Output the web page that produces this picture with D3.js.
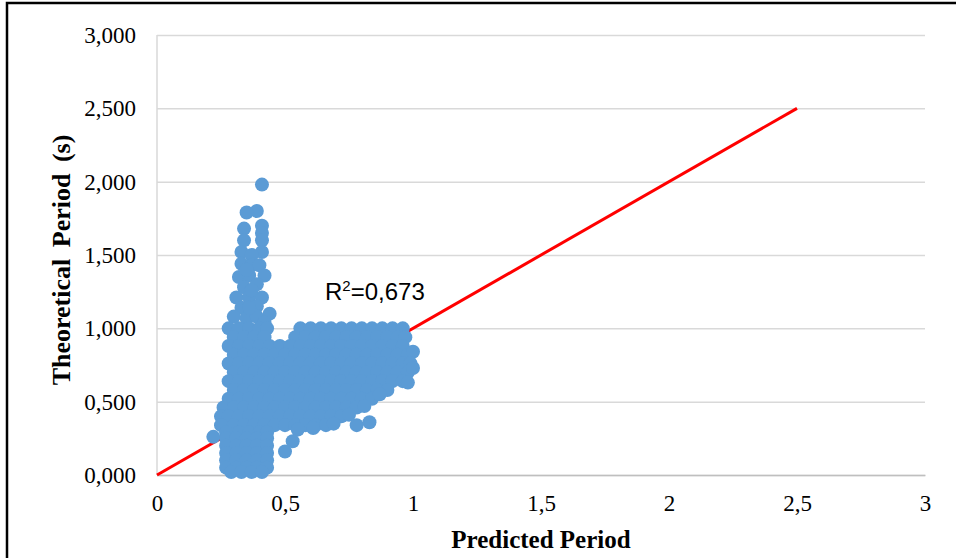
<!DOCTYPE html>
<html>
<head>
<meta charset="utf-8">
<script src="https://cdn.jsdelivr.net/npm/d3@7"></script>
<style>
  body { margin: 0; background: #fff; }
  svg { display: block; }
</style>
</head>
<body>
<div id="scatter"></div>
<script>
// tick values and labels (comma decimals as in the source)
var xTicks = [0, 0.5, 1, 1.5, 2, 2.5, 3];
var xTickLabels = ["0", "0,5", "1", "1,5", "2", "2,5", "3"];
var yTicks = [0, 0.5, 1, 1.5, 2, 2.5, 3];
var yTickLabels = ["0,000", "0,500", "1,000", "1,500", "2,000", "2,500", "3,000"];

// reference line y = x
var fitLine = [[0, 0], [2.5, 2.5]];
var r2Text = "=0,673";

// [predicted, theoretical]
var points = [
  // tall spike
  [0.41,1.98],[0.39,1.80],[0.35,1.79],[0.41,1.70],[0.41,1.65],[0.34,1.68],[0.34,1.60],[0.41,1.60],
  [0.33,1.52],[0.41,1.52],[0.37,1.50],[0.33,1.44],[0.37,1.43],[0.40,1.43],[0.42,1.36],[0.32,1.35],
  [0.36,1.36],[0.39,1.30],[0.34,1.28],[0.31,1.21],[0.36,1.21],[0.41,1.21],[0.39,1.15],[0.33,1.14],
  [0.30,1.08],[0.35,1.07],[0.39,1.08],[0.44,1.10],[0.42,1.04],[0.37,1.26],[0.35,1.40],[0.36,1.14],
  // y ~ 1.00
  [0.28,1.00],[0.32,1.00],[0.36,1.00],[0.40,1.00],[0.43,1.00],[0.56,1.00],[0.60,1.00],[0.64,1.00],
  [0.68,1.00],[0.72,1.00],[0.76,1.00],[0.80,1.00],[0.84,1.00],[0.88,1.00],[0.92,1.00],[0.96,1.00],
  // y ~ 0.94
  [0.30,0.94],[0.34,0.94],[0.38,0.94],[0.42,0.94],[0.54,0.94],[0.58,0.94],[0.62,0.94],[0.66,0.94],
  [0.70,0.94],[0.74,0.94],[0.78,0.94],[0.82,0.94],[0.86,0.94],[0.90,0.94],[0.94,0.94],[0.97,0.94],
  // y ~ 0.88
  [0.28,0.88],[0.32,0.88],[0.36,0.88],[0.40,0.88],[0.44,0.88],[0.48,0.88],[0.52,0.88],[0.56,0.88],
  [0.60,0.88],[0.64,0.88],[0.68,0.88],[0.72,0.88],[0.76,0.88],[0.80,0.88],[0.84,0.88],[0.88,0.88],
  [0.92,0.88],[0.96,0.88],
  // y ~ 0.82
  [0.30,0.82],[0.34,0.82],[0.38,0.82],[0.42,0.82],[0.46,0.82],[0.50,0.82],[0.54,0.82],[0.58,0.82],
  [0.62,0.82],[0.66,0.82],[0.70,0.82],[0.74,0.82],[0.78,0.82],[0.82,0.82],[0.86,0.82],[0.90,0.82],
  [0.94,0.82],[0.98,0.82],[1.00,0.84],
  // y ~ 0.76
  [0.28,0.76],[0.32,0.76],[0.36,0.76],[0.40,0.76],[0.44,0.76],[0.48,0.76],[0.52,0.76],[0.56,0.76],
  [0.60,0.76],[0.64,0.76],[0.68,0.76],[0.72,0.76],[0.76,0.76],[0.80,0.76],[0.84,0.76],[0.88,0.76],
  [0.92,0.76],[0.96,0.76],[0.99,0.76],
  // y ~ 0.70
  [0.30,0.70],[0.34,0.70],[0.38,0.70],[0.42,0.70],[0.46,0.70],[0.50,0.70],[0.54,0.70],[0.58,0.70],
  [0.62,0.70],[0.66,0.70],[0.70,0.70],[0.74,0.70],[0.78,0.70],[0.82,0.70],[0.86,0.70],[0.90,0.70],
  [0.94,0.70],[0.98,0.70],[1.00,0.73],
  // y ~ 0.64
  [0.28,0.64],[0.32,0.64],[0.36,0.64],[0.40,0.64],[0.44,0.64],[0.48,0.64],[0.52,0.64],[0.56,0.64],
  [0.60,0.64],[0.64,0.64],[0.68,0.64],[0.72,0.64],[0.76,0.64],[0.80,0.64],[0.84,0.64],[0.88,0.64],
  [0.92,0.64],[0.96,0.64],[0.98,0.63],
  // y ~ 0.58
  [0.30,0.58],[0.34,0.58],[0.38,0.58],[0.42,0.58],[0.46,0.58],[0.50,0.58],[0.54,0.58],[0.58,0.58],
  [0.62,0.58],[0.66,0.58],[0.70,0.58],[0.74,0.58],[0.78,0.58],[0.82,0.58],[0.86,0.58],[0.90,0.58],
  // y ~ 0.52
  [0.28,0.52],[0.32,0.52],[0.36,0.52],[0.40,0.52],[0.44,0.52],[0.48,0.52],[0.52,0.52],[0.56,0.52],
  [0.60,0.52],[0.64,0.52],[0.68,0.52],[0.72,0.52],[0.76,0.52],[0.80,0.52],[0.84,0.52],[0.87,0.55],
  // y ~ 0.46
  [0.26,0.46],[0.30,0.46],[0.34,0.46],[0.38,0.46],[0.42,0.46],[0.46,0.46],[0.50,0.46],[0.54,0.46],
  [0.58,0.46],[0.62,0.46],[0.66,0.46],[0.70,0.46],[0.74,0.46],[0.78,0.46],[0.81,0.47],
  // y ~ 0.40
  [0.25,0.40],[0.28,0.40],[0.32,0.40],[0.36,0.40],[0.40,0.40],[0.44,0.40],[0.48,0.40],[0.52,0.40],
  [0.56,0.40],[0.60,0.40],[0.64,0.40],[0.68,0.40],[0.72,0.40],[0.75,0.41],
  // y ~ 0.34
  [0.25,0.34],[0.30,0.34],[0.34,0.34],[0.38,0.34],[0.42,0.34],[0.46,0.34],[0.50,0.34],[0.54,0.34],
  [0.58,0.34],[0.62,0.34],[0.66,0.34],[0.69,0.35],[0.78,0.34],[0.83,0.36],
  // y ~ 0.29 and below (spike base)
  [0.27,0.29],[0.32,0.29],[0.36,0.29],[0.40,0.29],[0.43,0.29],[0.55,0.31],[0.61,0.32],
  [0.22,0.26],[0.27,0.25],[0.31,0.25],[0.35,0.25],[0.39,0.25],[0.43,0.25],[0.53,0.23],
  [0.27,0.20],[0.31,0.20],[0.35,0.20],[0.39,0.20],[0.43,0.20],
  [0.27,0.15],[0.31,0.15],[0.35,0.15],[0.39,0.15],[0.43,0.15],[0.50,0.16],
  [0.27,0.10],[0.31,0.10],[0.35,0.10],[0.39,0.10],[0.43,0.10],
  [0.27,0.05],[0.31,0.05],[0.35,0.05],[0.39,0.05],[0.43,0.05],
  [0.29,0.02],[0.33,0.02],[0.37,0.02],[0.41,0.02]
];

var svgWidth = 956;
var svgHeight = 558;

var margin = { top: 35, right: 31, bottom: 83, left: 157 };
var width = svgWidth - margin.left - margin.right;
var height = svgHeight - margin.top - margin.bottom;

var svg = d3.select("#scatter")
  .append("svg")
  .attr("width", svgWidth)
  .attr("height", svgHeight);

// outer frame
svg.append("rect")
  .attr("x", 7)
  .attr("y", 3)
  .attr("width", 1000)
  .attr("height", 600)
  .attr("fill", "none")
  .attr("stroke", "#000")
  .attr("stroke-width", 2.5);

var chartGroup = svg.append("g")
  .attr("transform", `translate(${margin.left}, ${margin.top})`);

var xLinearScale = d3.scaleLinear().domain([0, 3]).range([0, width]);
var yLinearScale = d3.scaleLinear().domain([0, 3]).range([height, 0]);

// y axis + gridlines
var yAxis = d3.axisLeft(yLinearScale)
  .tickValues(yTicks)
  .tickSize(-width)
  .tickPadding(21)
  .tickFormat((d, i) => yTickLabels[i]);

var yG = chartGroup.append("g").call(yAxis);
yG.select(".domain").remove();
yG.selectAll(".tick line").attr("stroke", "#d9d9d9").attr("stroke-width", 1.5);
yG.selectAll(".tick text")
  .attr("font-family", "'Liberation Serif', 'Times New Roman', serif")
  .attr("font-size", "23px")
  .attr("fill", "#000")
  .attr("dy", "0.33em");

// vertical axis line
chartGroup.append("line")
  .attr("x1", 0).attr("x2", 0)
  .attr("y1", 0).attr("y2", height)
  .attr("stroke", "#d9d9d9")
  .attr("stroke-width", 1.5);

// x axis
var xAxis = d3.axisBottom(xLinearScale)
  .tickValues(xTicks)
  .tickSize(0)
  .tickSizeOuter(0)
  .tickPadding(20)
  .tickFormat((d, i) => xTickLabels[i]);

var xG = chartGroup.append("g")
  .attr("transform", `translate(0, ${height})`)
  .call(xAxis);
xG.select(".domain").attr("stroke", "#bfbfbf").attr("stroke-width", 1.5);
xG.selectAll(".tick text")
  .attr("font-family", "'Liberation Serif', 'Times New Roman', serif")
  .attr("font-size", "23px")
  .attr("fill", "#000");

// y = x line
var line = d3.line()
  .x(d => xLinearScale(d[0]))
  .y(d => yLinearScale(d[1]));

chartGroup.append("path")
  .datum(fitLine)
  .attr("d", line)
  .attr("fill", "none")
  .attr("stroke", "#ff0000")
  .attr("stroke-width", 3);

// scatter points
chartGroup.selectAll("circle.pt")
  .data(points)
  .enter()
  .append("circle")
  .attr("class", "pt")
  .attr("cx", d => xLinearScale(d[0]))
  .attr("cy", d => yLinearScale(d[1]))
  .attr("r", 7)
  .attr("fill", "#5b9bd5");

// R² annotation
var r2 = svg.append("text")
  .attr("x", 325)
  .attr("y", 300)
  .attr("font-family", "'Liberation Sans', Arial, sans-serif")
  .attr("font-size", "24px")
  .attr("fill", "#000");
r2.append("tspan").text("R");
r2.append("tspan").attr("dy", -9).attr("font-size", "15px").text("2");
r2.append("tspan").attr("dy", 9).text(r2Text);

// axis titles
svg.append("text")
  .attr("transform", `translate(70, 260) rotate(-90)`)
  .attr("text-anchor", "middle")
  .attr("font-family", "'Liberation Serif', 'Times New Roman', serif")
  .attr("font-weight", "bold")
  .attr("font-size", "26px")
  .attr("word-spacing", "5px")
  .text("Theoretical Period (s)");

svg.append("text")
  .attr("x", margin.left + width / 2)
  .attr("y", 548)
  .attr("text-anchor", "middle")
  .attr("font-family", "'Liberation Serif', 'Times New Roman', serif")
  .attr("font-weight", "bold")
  .attr("font-size", "25px")
  .text("Predicted Period");
</script>
</body>
</html>
